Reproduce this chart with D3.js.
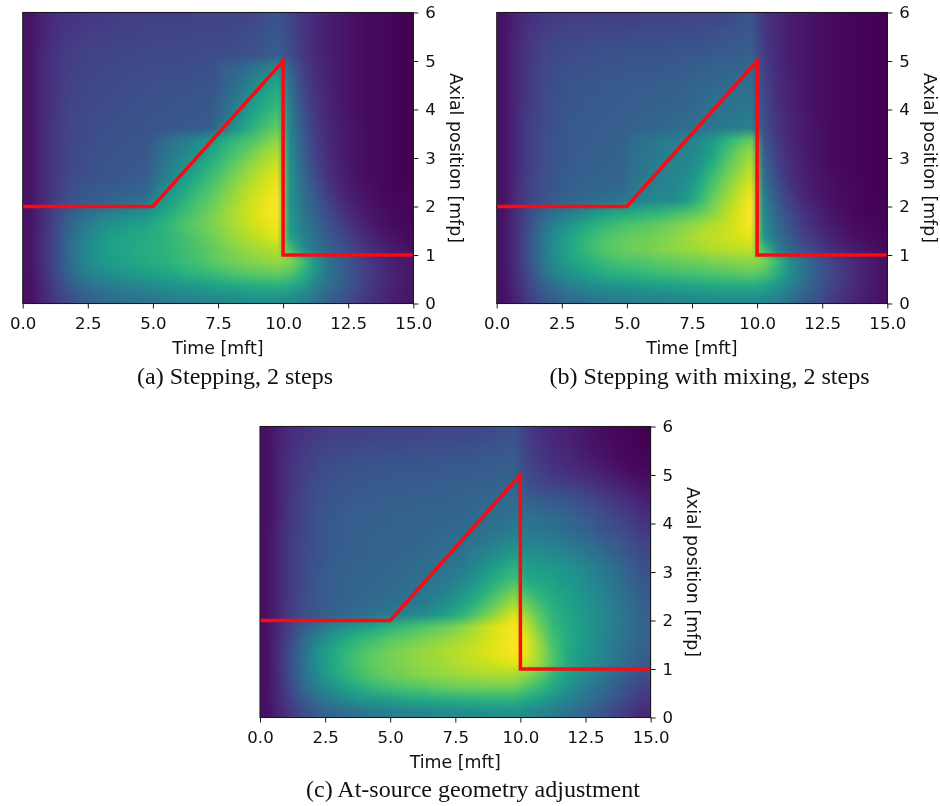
<!DOCTYPE html>
<html><head><meta charset="utf-8">
<script src="https://cdn.jsdelivr.net/npm/d3@7"></script>
<style>
html,body{margin:0;padding:0;background:#fff;width:940px;height:806px;overflow:hidden}
canvas,svg{position:absolute;left:0;top:0}
</style></head><body>
<script>
const xTicks=[0,2.5,5,7.5,10,12.5,15];
const yTicks=[0,1,2,3,4,5,6];
const xTickLabels=["0.0","2.5","5.0","7.5","10.0","12.5","15.0"];
const yTickLabels=["0","1","2","3","4","5","6"];
const boundaryTime=[0,5,10,10,15];
const boundaryPos=[2,2,5,1,1];
const xLabel="Time [mft]";
const yLabel="Axial position [mfp]";
const captionA="(a) Stepping, 2 steps";
const captionB="(b) Stepping with mixing, 2 steps";
const captionC="(c) At-source geometry adjustment";
// flux values x100, rows from y=5.875 down to y=0.125 (0.25 mfp), columns x=0.25..14.75 (0.5 mft)
const fluxA=`
5 10 13 15 16 17 17 18 18 19 19 19 19 20 20 20 20 21 23 26 21 15 11 8 6 4 3 2 1 0
5 10 14 16 17 18 18 19 19 20 20 20 20 21 21 21 22 23 25 27 22 15 11 8 6 4 3 2 1 0
5 10 14 17 18 19 19 20 20 21 21 21 21 22 22 22 23 24 26 28 23 16 11 8 6 4 3 2 1 0
5 11 15 18 19 20 20 21 21 22 22 22 22 23 23 23 24 25 27 29 24 16 11 8 6 4 3 2 1 0
5 11 15 18 20 21 21 22 22 23 23 23 23 24 24 30 32 36 41 48 31 19 12 9 6 4 3 2 1 0
5 11 16 19 20 21 22 22 23 23 24 24 24 25 25 31 35 42 50 57 35 20 13 9 6 4 3 2 1 0
5 11 16 19 21 22 22 23 24 24 25 25 25 26 26 32 39 48 56 62 38 22 14 9 6 4 3 2 1 0
5 11 16 20 21 22 23 24 24 25 25 26 26 27 27 34 43 53 60 66 41 24 15 10 6 4 3 2 1 0
5 11 16 20 22 23 24 24 25 25 26 26 27 27 28 37 48 58 65 71 43 26 16 10 7 4 3 2 1 0
5 11 17 20 22 23 24 25 25 26 26 27 28 28 31 42 53 63 70 76 45 27 17 11 7 5 3 2 1 0
5 12 17 20 22 24 25 25 26 26 32 38 42 47 53 61 67 72 77 83 47 29 18 11 7 5 3 2 1 0
5 12 17 21 23 24 25 26 26 27 34 41 46 52 59 66 72 78 84 88 49 30 19 12 7 5 3 2 1 0
5 12 17 21 23 25 26 26 27 28 37 44 50 57 64 71 77 83 88 92 50 32 20 13 8 5 3 2 1 0
5 12 17 22 24 25 26 27 28 29 40 47 54 62 69 75 81 87 92 96 51 34 22 14 9 5 3 2 1 0
5 11 17 23 26 27 28 29 30 32 44 52 60 67 73 79 85 90 94 98 52 36 25 16 10 6 4 2 1 1
5 11 18 24 27 29 31 33 35 38 50 58 65 71 76 82 87 92 96 100 52 38 28 19 12 8 5 3 2 1
5 12 20 28 34 38 42 45 48 51 57 63 69 74 79 84 89 93 97 100 53 40 30 22 15 10 6 4 2 1
5 12 21 31 39 45 50 53 56 58 63 68 72 76 80 84 88 92 95 98 55 42 33 25 18 13 8 5 3 2
5 13 22 33 42 49 54 57 59 61 63 66 70 74 78 82 86 89 92 96 58 45 36 28 22 16 11 7 5 3
5 13 22 34 44 51 56 58 60 62 64 66 69 72 75 79 82 85 87 89 70 50 38 31 25 19 14 10 7 5
5 13 22 33 43 50 54 57 59 61 63 65 68 71 74 77 79 81 83 84 81 70 52 38 30 23 17 12 8 6
5 12 21 31 40 46 49 52 54 56 58 60 63 65 67 70 72 74 75 76 73 64 50 38 31 24 18 13 9 6
4 11 19 27 34 38 41 43 45 47 49 51 53 55 57 59 60 61 62 63 61 54 44 36 29 23 17 13 9 6
4 10 17 23 28 32 35 37 38 39 41 43 44 46 47 48 49 50 50 50 49 44 37 31 26 20 15 11 8 6`;
const fluxB=`
5 10 14 16 17 18 18 19 19 19 19 20 20 20 21 21 21 22 24 26 16 11 8 6 4 3 2 1 1 0
5 10 15 17 19 20 20 21 21 21 22 22 22 23 23 23 24 25 26 27 17 11 8 6 4 3 2 1 1 0
5 11 16 19 21 22 22 23 23 24 24 24 24 25 25 25 26 27 28 29 17 11 8 6 4 3 2 1 1 0
5 11 16 20 22 23 24 24 25 25 26 26 26 26 27 27 28 28 29 30 18 12 8 6 4 3 2 1 1 0
5 11 17 21 23 24 25 25 26 26 27 27 27 28 28 30 31 31 32 33 19 12 8 6 4 3 2 1 1 0
5 11 17 21 24 25 26 27 27 28 28 28 29 29 30 31 32 33 34 35 20 13 9 6 4 3 2 1 1 0
5 11 17 22 24 26 27 27 28 28 29 29 30 30 31 33 34 35 36 37 21 13 9 6 4 3 2 1 1 0
5 11 17 22 25 26 27 28 28 29 29 30 31 31 32 34 36 37 38 39 22 14 9 6 4 3 2 1 1 0
5 12 18 22 25 27 28 28 29 29 30 31 32 33 34 36 37 39 40 41 23 15 10 7 4 3 2 1 1 0
5 12 18 22 25 27 28 29 29 30 31 32 33 34 36 37 39 41 42 43 24 15 10 7 5 3 2 1 1 0
5 12 18 23 26 27 28 29 30 30 35 38 40 42 43 46 54 63 70 76 27 17 11 7 5 3 2 1 1 0
5 12 18 23 26 28 29 30 30 31 36 39 41 43 44 48 57 68 78 84 30 18 12 8 5 3 2 1 1 0
5 12 18 23 26 28 29 30 31 31 37 40 42 44 46 52 62 73 81 88 33 20 13 8 5 3 2 1 1 0
5 12 19 24 27 29 30 31 31 32 38 41 43 45 47 56 68 77 85 92 36 22 14 9 6 4 2 1 1 0
5 13 19 24 27 30 31 32 33 34 39 42 44 46 50 61 72 81 89 96 40 25 16 10 6 4 3 2 1 0
5 13 20 25 29 31 33 35 37 39 43 46 47 49 54 66 77 85 92 99 44 28 19 12 8 5 3 2 1 1
5 14 22 31 37 42 47 52 56 59 61 64 66 69 72 76 81 88 94 100 47 32 22 15 10 6 4 2 1 1
5 14 24 35 45 52 58 63 67 70 72 74 76 79 82 85 88 91 95 99 50 35 25 17 12 8 5 3 2 1
5 14 26 38 49 57 64 69 73 75 77 78 80 82 85 88 90 92 94 96 53 38 28 20 15 10 7 4 3 2
5 14 26 39 50 58 65 70 74 76 78 79 81 83 84 86 88 89 90 91 68 44 32 25 19 14 10 7 5 3
5 14 25 38 48 56 61 65 69 71 72 73 75 76 77 78 80 81 82 83 80 68 50 38 29 22 16 11 8 5
5 13 23 35 44 50 55 59 62 64 65 67 68 69 70 71 72 73 74 75 72 63 49 38 30 23 17 12 8 5
4 12 21 30 37 42 46 49 51 52 53 55 56 57 58 59 60 61 61 61 59 53 44 35 28 22 16 12 8 5
4 10 18 25 30 34 37 39 41 42 43 44 45 46 47 48 48 49 49 49 47 43 37 30 25 19 14 10 7 5`;
const fluxC=`
4 9 13 15 17 18 18 19 19 20 20 20 20 21 21 21 22 22 24 26 18 13 11 9 7 5 3 2 1 0
4 9 14 17 19 20 21 21 22 22 22 23 23 23 23 24 24 25 26 27 19 15 12 10 8 5 4 2 1 0
4 10 15 18 21 22 23 24 24 25 25 25 25 26 26 26 27 27 28 29 20 16 13 11 9 7 5 3 2 1
4 10 15 19 22 24 25 25 26 26 27 27 27 27 28 28 28 29 29 30 22 18 15 13 11 9 7 5 3 2
4 10 16 20 23 25 26 27 27 28 28 28 28 29 29 29 30 30 31 32 24 21 19 17 15 13 11 8 6 4
4 10 16 21 24 26 27 28 28 29 29 29 30 30 30 31 31 32 33 34 28 26 24 23 21 18 15 13 10 7
4 10 17 21 25 27 28 29 29 30 30 30 31 31 31 32 33 34 35 36 33 31 30 28 26 23 20 17 14 10
4 10 17 22 25 27 29 29 30 30 31 31 31 32 32 33 34 35 36 38 38 36 34 33 30 27 23 20 17 13
4 11 17 22 26 28 29 30 30 31 31 31 32 33 33 34 35 37 39 42 40 38 37 35 32 29 26 23 20 16
4 11 18 22 26 28 29 30 31 31 32 32 33 34 35 36 38 41 44 48 44 43 42 40 37 34 30 27 23 19
4 11 18 23 26 28 30 30 31 32 32 33 34 35 36 38 42 46 50 54 50 49 47 45 42 38 34 30 26 22
4 11 18 23 26 29 30 31 32 32 33 34 35 36 38 41 46 52 58 64 55 54 53 51 47 43 39 34 29 24
4 11 18 23 27 29 31 32 32 33 34 35 36 38 41 45 51 58 64 69 60 58 56 53 50 46 41 36 31 26
4 11 18 23 27 29 31 32 33 34 35 36 38 41 45 50 57 64 71 78 68 63 59 56 52 48 43 38 33 28
4 11 18 24 27 30 32 33 34 35 37 39 41 45 50 56 63 71 79 86 76 68 62 58 54 49 45 40 35 29
4 11 19 25 28 31 33 35 37 40 43 46 49 53 58 64 72 80 87 95 84 74 65 60 55 50 46 41 36 30
4 12 21 30 37 44 50 54 58 62 66 69 72 75 78 82 87 92 96 99 91 78 67 61 56 51 46 41 36 31
4 13 24 35 45 54 60 65 68 72 75 77 80 82 84 87 90 93 96 99 95 83 70 62 56 51 45 40 35 31
4 14 26 38 50 59 65 70 74 77 80 82 84 86 88 90 92 95 97 99 96 85 72 62 55 50 44 39 34 30
4 14 26 39 51 59 66 71 75 78 80 82 84 85 87 89 91 92 94 96 92 84 72 62 55 49 43 37 33 28
4 13 25 37 48 57 64 69 73 76 78 80 82 83 84 85 86 87 87 87 82 75 65 57 50 44 38 32 27 23
4 13 23 34 43 50 56 61 65 68 70 72 73 75 76 77 77 78 78 78 72 67 59 52 45 39 34 28 23 19
4 12 20 29 36 42 46 50 53 55 57 59 60 61 62 63 63 64 64 64 60 56 50 45 40 35 30 25 20 16
4 10 17 24 29 32 35 37 40 42 43 44 45 46 47 48 49 49 50 50 48 45 42 38 34 30 25 20 15 11`;

const parse=s=>s.trim().split("\n").map(r=>r.trim().split(/\s+/).map(Number));
const W=390.6,H=291;
const layout=[
 {flux:fluxA,caption:captionA,x0:22.7,y0:12.5,capX:235,capY:384},
 {flux:fluxB,caption:captionB,x0:496.7,y0:12.5,capX:709.5,capY:384},
 {flux:fluxC,caption:captionC,x0:260,y0:426.5,capX:473,capY:797}
];
const svg=d3.select("body").append("svg").attr("width",940).attr("height",806).style("z-index",2);
const TICKFONT="'DejaVu Sans',sans-serif";
layout.forEach(p=>{
  const grid=parse(p.flux), rows=grid.length, cols=grid[0].length;
  const color=d3.scaleSequential(d3.interpolateViridis).domain([0,100]);
  const off=document.createElement("canvas"); off.width=cols; off.height=rows;
  const oc=off.getContext("2d");
  grid.forEach((row,j)=>row.forEach((v,i)=>{oc.fillStyle=color(v);oc.fillRect(i,j,1,1);}));
  const cv=d3.select("body").append("canvas")
    .attr("width",Math.ceil(W)).attr("height",Math.ceil(H))
    .style("left",p.x0+"px").style("top",p.y0+"px").style("width",Math.ceil(W)+"px").style("height",Math.ceil(H)+"px").node();
  const c=cv.getContext("2d"); c.imageSmoothingEnabled=true; c.imageSmoothingQuality="medium";
  c.drawImage(off,0,0,W,H);

  const x=d3.scaleLinear().domain([0,15]).range([0,W]);
  const y=d3.scaleLinear().domain([0,6]).range([H,0]);
  const g=svg.append("g").attr("transform",`translate(${p.x0},${p.y0})`);
  const line=d3.line().x(d=>x(d[0])).y(d=>y(d[1]));
  g.append("path").datum(d3.zip(boundaryTime,boundaryPos)).attr("d",line)
    .attr("fill","none").attr("stroke","#fb0a12").attr("stroke-width",3.5).attr("stroke-linejoin","miter");
  g.append("rect").attr("width",W).attr("height",H).attr("fill","none").attr("stroke","#1a1a1a").attr("stroke-width",1.1);
  const ax=g.append("g").attr("transform",`translate(0,${H})`)
    .call(d3.axisBottom(x).tickValues(xTicks).tickFormat((d,i)=>xTickLabels[i]).tickSize(5).tickPadding(8.5));
  const ay=g.append("g").attr("transform",`translate(${W},0)`)
    .call(d3.axisRight(y).tickValues(yTicks).tickFormat((d,i)=>yTickLabels[i]).tickSize(5).tickPadding(7));
  [ax,ay].forEach(a=>{
    a.select(".domain").remove();
    a.selectAll("line").attr("stroke","#1a1a1a");
    a.selectAll("text").attr("font-family",TICKFONT).attr("font-size",16.6).attr("fill","#111");
  });
  g.append("text").attr("x",W/2).attr("y",H+50).attr("text-anchor","middle")
    .attr("font-family",TICKFONT).attr("font-size",17.4).attr("fill","#111").text(xLabel);
  g.append("text").attr("transform",`translate(${W+36.5},${H/2}) rotate(90)`).attr("text-anchor","middle")
    .attr("font-family",TICKFONT).attr("font-size",17.4).attr("fill","#111").text(yLabel);
  svg.append("text").attr("x",p.capX).attr("y",p.capY).attr("text-anchor","middle")
    .attr("font-family","'Liberation Serif',serif").attr("font-size",24).attr("fill","#111").text(p.caption);
});
</script>
</body></html>
